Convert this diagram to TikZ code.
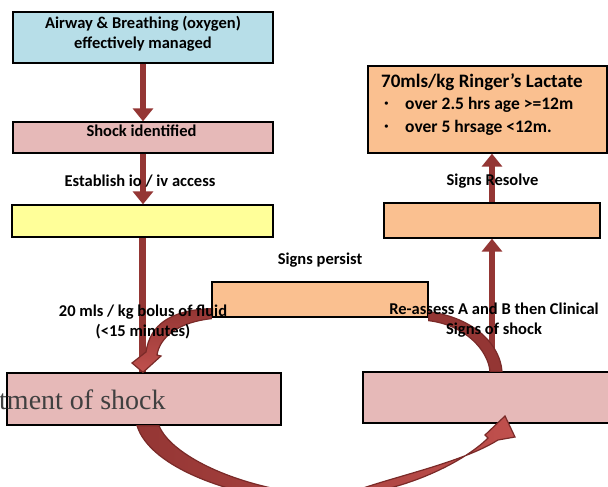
\documentclass[tikz,border=0pt]{standalone}
\usepackage{fontspec}
\setmainfont{Carlito}
\newfontfamily\timesfont{Liberation Serif}
\usetikzlibrary{calc,arrows.meta}

\definecolor{shaftred}{HTML}{943634}
\definecolor{arrowline}{HTML}{7A2A28}
\definecolor{arrowfill}{HTML}{C0504D}
\definecolor{airblue}{HTML}{B7DEE8}
\definecolor{shockpink}{HTML}{E6B9B8}
\definecolor{accessyellow}{HTML}{FFFF99}
\definecolor{fluidorange}{HTML}{FAC090}

\begin{document}
\begin{tikzpicture}[
  x=1pt,y=-1pt,
  box/.style={draw=black, line width=1.3pt, inner sep=0pt},
  flow/.style={draw=shaftred, line width=6.5pt, -{Triangle[width=20pt,length=13pt]}},
  shaft/.style={draw=shaftred, line width=6.5pt},
  curvebody/.style={draw=arrowline, line width=1.2pt, line join=miter},
  label/.style={font=\fontsize{16.5}{20}\selectfont\bfseries, text=black, align=center, inner sep=0pt},
  bullet/.style={font=\fontsize{17.5}{23}\selectfont\bfseries, text=black, inner sep=0pt, anchor=west},
  title/.style={font=\fontsize{19}{23}\selectfont\bfseries, text=black, inner sep=0pt, anchor=west}
]
\useasboundingbox (0,0) rectangle (608,487);
\clip (0,0) rectangle (608,487);

% Boxes of the pathway
\node[box, fill=airblue, minimum width=260pt, minimum height=51pt] (airway) at (143,37.5) {};
\node[box, fill=shockpink, minimum width=260pt, minimum height=31pt] (shock) at (143,137.5) {};
\node[box, fill=accessyellow, minimum width=261pt, minimum height=32pt] (access) at (142.5,221) {};
\node[box, fill=fluidorange, minimum width=239pt, minimum height=87pt] (ringer) at (487.5,109.5) {};
\node[box, fill=fluidorange, minimum width=216pt, minimum height=35pt] (resolve) at (492,220.5) {};
\node[box, fill=fluidorange, minimum width=216pt, minimum height=35pt] (persist) at (320,299.5) {};
\node[box, fill=shockpink, minimum width=274pt, minimum height=52pt] (treat) at (144,399) {};
\node[box, fill=shockpink, minimum width=249pt, minimum height=51pt] (recheck) at (487.5,397.5) {};

% Straight flow arrows
\draw[flow] (airway.south) -- (shock.north);
\draw[flow] (shock.south) -- (shock.south |- access.north);
\draw[shaft] (access.south) -- (access.south |- treat.north);
\draw[flow] (resolve.south |- recheck.north) -- (resolve.south);
\draw[flow] (resolve.north) -- (resolve.north |- ringer.south);

% Curved loop arrows
\filldraw[curvebody, fill=shaftred] ($(persist.south east)+(0,-6)$) .. controls (475,318) and (500,345) .. ($(recheck.north)+(14.5,0)$)
  -- ($(recheck.north)+(2.5,0)$) .. controls (488,350) and (465,325) .. ($(persist.south east)+(0,3)$) -- cycle;
\shadedraw[curvebody, top color=shaftred, bottom color=arrowfill] ($(persist.south west)+(0,-9)$) .. controls (170,310) and (150,325) .. (146,352)
  -- (132,363) -- ($(treat.north)+(-1,0)$) -- (161,356) -- (157,355)
  .. controls (160,336) and (180,322) .. ($(persist.south west)+(0,1)$) -- cycle;
\coordinate (looptip) at (505,416);
\shadedraw[curvebody, left color=shaftred, right color=arrowfill] ($(treat.south)+(-7,0)$)
  .. controls (150,468) and (235,500) .. (330,505)
  .. controls (345,485) and (450,470) .. (498,440)
  -- (515,437) -- (looptip) -- (485,435) -- (488,438)
  .. controls (462,464) and (398,494) .. (338,496)
  .. controls (250,494) and (172,458) .. ($(treat.south)+(15,0)$) -- cycle;

% Texts
\node[label] (airwaytxt) at (143,34) {Airway \& Breathing (oxygen)\\effectively managed};
\node[label] (shocktxt) at (141.5,131) {Shock identified};
\node[label] (accesstxt) at (140,181) {Establish io / iv access};
\node[label] (persisttxt) at (320,260) {Signs persist};
\node[label] (bolustxt) at (143,322) {20 mls / kg bolus of fluid\\(<15 minutes)};
\node[label] (rechecktxt) at (494,320) {Re-assess A and B then Clinical\\Signs of shock};
\node[label] (resolvetxt) at (492.5,181) {Signs Resolve};
\node[title] (ringertxt) at (381,82) {70mls/kg Ringer’s Lactate};
\node[bullet] (dotA) at (384,105) {·};
\node[bullet] (overA) at (405,105) {over 2.5 hrs age >=12m};
\node[bullet] (dotB) at (384,128) {·};
\node[bullet] (overB) at (405,128) {over 5 hrsage <12m.};
\node[font=\timesfont\fontsize{28}{30}\selectfont, text=black!75, anchor=base west, inner sep=0pt] (treattxt) at (-1,409) {tment of shock};

\end{tikzpicture}
\end{document}
